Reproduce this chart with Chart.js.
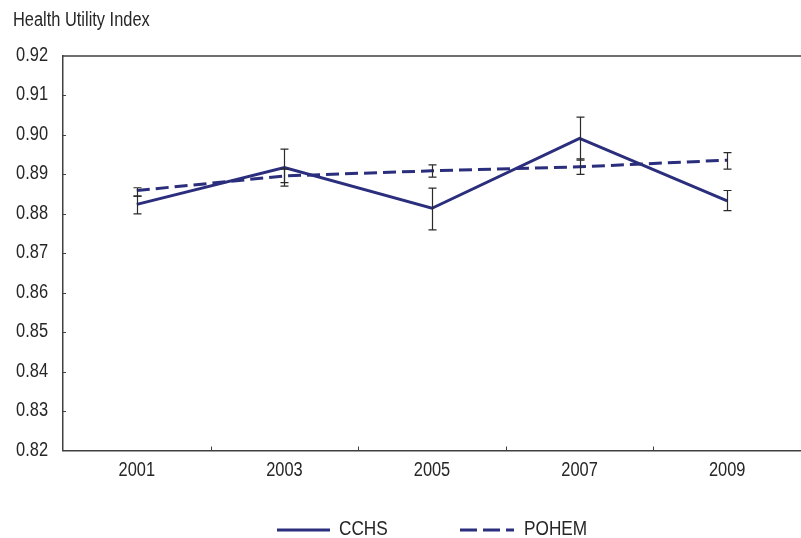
<!DOCTYPE html>
<html>
<head>
<meta charset="utf-8">
<script src="https://cdn.jsdelivr.net/npm/chart.js@4/dist/chart.umd.min.js"></script>
<style>
html,body{margin:0;padding:0;background:#fff;}
#wrap{width:801px;height:538px;position:relative;}
</style>
</head>
<body>
<div id="wrap"><canvas id="c" width="801" height="538"></canvas></div>
<script>
const years = ['2001','2003','2005','2007','2009'];
const cchs = [0.8824, 0.8917, 0.8814, 0.8991, 0.8833];
const cchsLow = [0.8800, 0.8870, 0.8759, 0.8936, 0.8808];
const cchsHigh = [0.8845, 0.8964, 0.8865, 0.9045, 0.8859];
const pohem = [0.8859, 0.8896, 0.8909, 0.8919, 0.8936];
const pohemLow = [0.8845, 0.8879, 0.8893, 0.8900, 0.8913];
const pohemHigh = [0.8866, 0.8913, 0.8924, 0.8939, 0.8955];
const yTitle = 'Health Utility Index';
const yMin = 0.82, yMax = 0.92, yStep = 0.01;

const FONT = '"Liberation Sans", Arial, sans-serif';
const NARROW = 0.82;
const NAVY = '#2B2E7C';
const AXIS = '#404040';
const TEXT = '#262626';

function narrowText(ctx, text, x, y, size, align) {
  ctx.save();
  ctx.font = size + 'px ' + FONT;
  ctx.textAlign = align;
  ctx.textBaseline = 'alphabetic';
  ctx.translate(x, y);
  ctx.scale(NARROW, 1);
  ctx.fillText(text, 0, 0);
  ctx.restore();
}

const decor = {
  id: 'decor',
  afterDatasetsDraw(chart) {
    const ctx = chart.ctx;
    const ys = chart.scales.y, xs = chart.scales.x;
    const ca = chart.chartArea;
    ctx.save();
    // error bars
    const errs = [[cchsLow, cchsHigh], [pohemLow, pohemHigh]];
    ctx.strokeStyle = '#2a2a2a';
    ctx.lineWidth = 1.2;
    errs.forEach(([lo, hi]) => {
      lo.forEach((v, i) => {
        const x = Math.round(xs.getPixelForValue(i)) + 0.5;
        const y1 = ys.getPixelForValue(lo[i]);
        const y2 = ys.getPixelForValue(hi[i]);
        ctx.beginPath();
        ctx.moveTo(x, y1); ctx.lineTo(x, y2);
        ctx.moveTo(x - 4, y1); ctx.lineTo(x + 4, y1);
        ctx.moveTo(x - 4, y2); ctx.lineTo(x + 4, y2);
        ctx.stroke();
      });
    });
    // top border
    ctx.strokeStyle = AXIS;
    ctx.lineWidth = 1.5;
    ctx.beginPath();
    ctx.moveTo(ca.left, ca.top); ctx.lineTo(ca.right, ca.top);
    ctx.stroke();
    // y ticks inside
    ctx.lineWidth = 1;
    ys.ticks.forEach(t => {
      if (t.value <= yMin + 1e-9 || t.value >= yMax - 1e-9) return;
      const y = Math.round(ys.getPixelForValue(t.value)) + 0.5;
      ctx.beginPath(); ctx.moveTo(ca.left, y); ctx.lineTo(ca.left + 3, y); ctx.stroke();
    });
    // x ticks between categories
    for (let i = 0; i < years.length - 1; i++) {
      const x = Math.round((xs.getPixelForValue(i) + xs.getPixelForValue(i + 1)) / 2) + 0.5;
      ctx.beginPath(); ctx.moveTo(x, ca.bottom); ctx.lineTo(x, ca.bottom - 4); ctx.stroke();
    }
    // tick labels
    ctx.fillStyle = TEXT;
    ys.ticks.forEach(t => {
      const y = ys.getPixelForValue(t.value);
      narrowText(ctx, Number(t.value).toFixed(2), 48, y + 5, 20, 'right');
    });
    years.forEach((lab, i) => {
      narrowText(ctx, lab, xs.getPixelForValue(i), 476, 20, 'center');
    });
    // title
    narrowText(ctx, yTitle, 13, 25.5, 20, 'left');
    // legend
    const ly = 530;
    ctx.strokeStyle = NAVY;
    ctx.lineWidth = 3;
    ctx.beginPath(); ctx.moveTo(277, ly); ctx.lineTo(330, ly); ctx.stroke();
    ctx.setLineDash([17, 6]);
    ctx.beginPath(); ctx.moveTo(460, ly); ctx.lineTo(514, ly); ctx.stroke();
    ctx.setLineDash([]);
    narrowText(ctx, chart.data.datasets[0].label, 339, 535, 21, 'left');
    narrowText(ctx, chart.data.datasets[1].label, 524, 535, 21, 'left');
    ctx.restore();
  }
};

new Chart(document.getElementById('c'), {
  type: 'line',
  data: {
    labels: years,
    datasets: [
      { label: 'CCHS', data: cchs, borderColor: NAVY, borderWidth: 3, pointRadius: 0, tension: 0, fill: false },
      { label: 'POHEM', data: pohem, borderColor: NAVY, borderWidth: 3, borderDash: [13, 6], pointRadius: 0, tension: 0, fill: false }
    ]
  },
  options: {
    responsive: false,
    animation: false,
    devicePixelRatio: 1,
    layout: { padding: { top: 56, left: 0, right: 0, bottom: 0 } },
    plugins: { legend: { display: false }, tooltip: { enabled: false }, title: { display: false } },
    scales: {
      x: {
        offset: true,
        grid: { display: false, offset: true },
        border: { display: true, color: AXIS, width: 1.5 },
        ticks: { display: false },
        afterFit(s) { s.height = 87.5; }
      },
      y: {
        min: yMin, max: yMax,
        grid: { display: false },
        border: { display: true, color: AXIS, width: 1.5 },
        ticks: { display: false, stepSize: yStep },
        afterFit(s) { s.width = 63; }
      }
    }
  },
  plugins: [decor]
});
</script>
</body>
</html>
